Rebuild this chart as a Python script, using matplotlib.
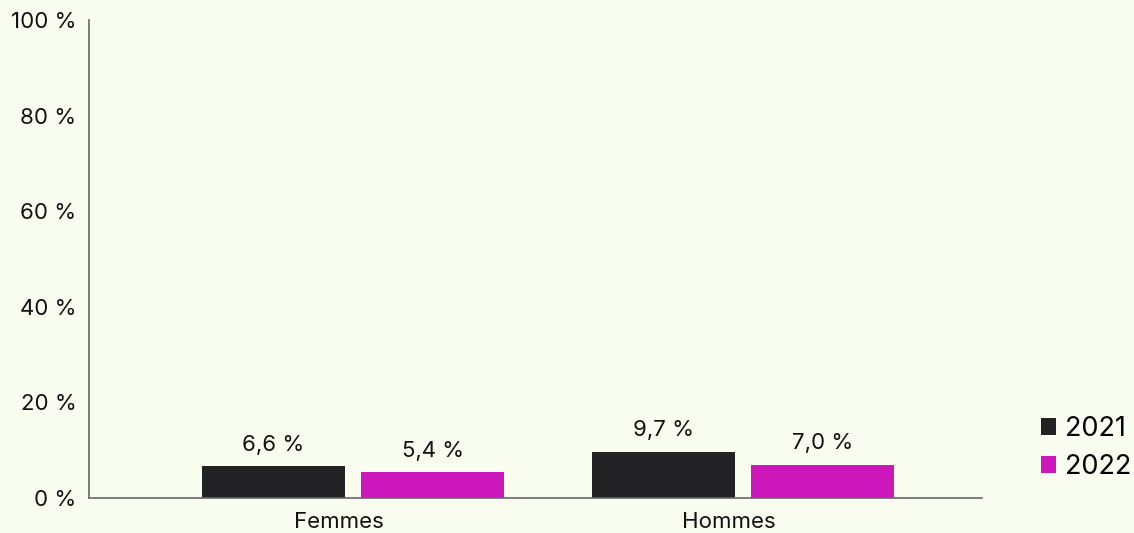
import numpy as np
import matplotlib.pyplot as plt
from matplotlib.patches import Patch

plt.rcParams['font.family'] = ['Inter', 'DejaVu Sans']

categories = ['Femmes', 'Hommes']
years = ['2021', '2022']
values_2021 = [6.6, 9.7]
values_2022 = [5.4, 7.0]
colors = ['#222124', '#CC17BB']
bg = '#F9FDF0'

fig = plt.figure(figsize=(11.34, 5.33), dpi=100, facecolor=bg)
ax = fig.add_axes([0.0785, 0.0657, 0.7875, 0.8968], facecolor=bg)

x = np.arange(len(categories))
width = 0.367
offset = 0.204

for vals, col, dx in [(values_2021, colors[0], -offset), (values_2022, colors[1], offset)]:
    bars = ax.bar(x + dx, vals, width, color=col)
    for b, v in zip(bars, vals):
        ax.text(b.get_x() + b.get_width() / 2, v + 3.2, f'{v:.1f} %'.replace('.', ','),
                ha='center', va='baseline', fontsize=16, color='#111111')

ax.set_xlim(-0.677, 0.613 + 1)
ax.set_ylim(0, 100)
ax.set_yticks(range(0, 101, 20))
ax.set_yticklabels([f'{t} %' for t in range(0, 101, 20)])
# category labels sit a little left of the bar pairs
ax.set_xticks(x - 0.035)
ax.set_xticklabels(categories)
ax.tick_params(length=0, labelsize=16, colors='#111111')
ax.tick_params(axis='y', pad=9)
ax.tick_params(axis='x', pad=10)

for s in ['top', 'right']:
    ax.spines[s].set_visible(False)
for s in ['left', 'bottom']:
    ax.spines[s].set_color('#666666')
    ax.spines[s].set_linewidth(1.2)

handles = [Patch(facecolor=c, label=y) for c, y in zip(colors, years)]
fig.legend(handles=handles, loc='center left', bbox_to_anchor=(0.918, 0.159),
           frameon=False, fontsize=19.5, handlelength=0.55, handleheight=0.6,
           handletextpad=0.35, labelspacing=0.45, borderaxespad=0, borderpad=0)

fig.savefig('out.png', dpi=100, facecolor=bg)
